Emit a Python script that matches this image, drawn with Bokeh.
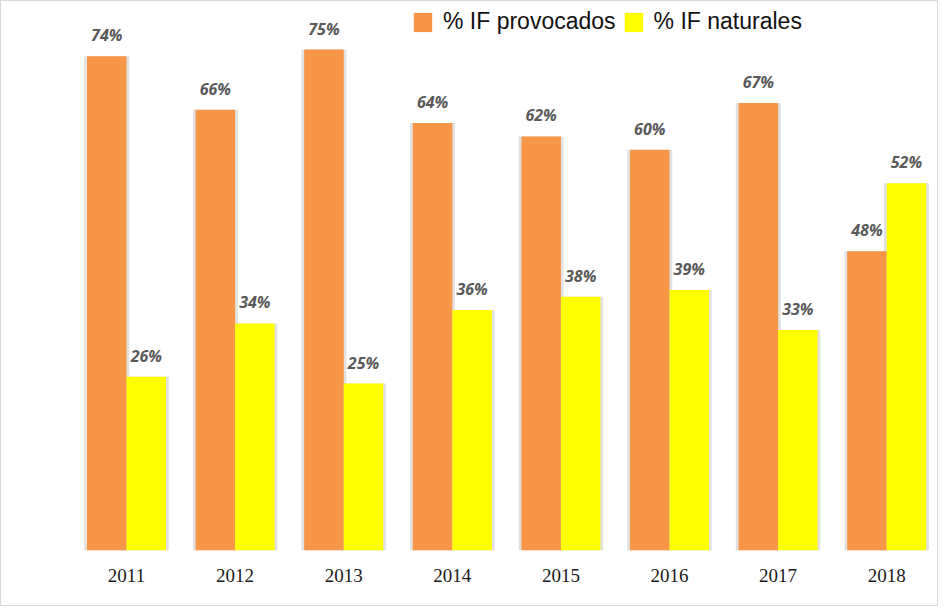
from bokeh.plotting import figure
from bokeh.models import ColumnDataSource, Range1d, FixedTicker, Legend, LegendItem
from bokeh.core.properties import value
from bokeh.embed import file_html
from bokeh.resources import INLINE

years = ["2011", "2012", "2013", "2014", "2015", "2016", "2017", "2018"]
# values as labelled in the chart
provocados = [74, 66, 75, 64, 62, 60, 67, 48]
naturales = [26, 34, 25, 36, 38, 39, 33, 52]
# bar heights as drawn in the reference (2018 column drawn at 45 / 55)
provocados_bar = [74, 66, 75, 64, 62, 60, 67, 44.8]
naturales_bar = [26, 34, 25, 36, 38, 39, 33, 55]

ORANGE = "#F79646"
YELLOW = "#FFFF00"
bw = 0.364
pos = list(range(len(years)))

src = ColumnDataSource(dict(
    x=pos,
    xo=[i - bw / 2 for i in pos],
    xn=[i + bw / 2 for i in pos],
    prov=provocados_bar,
    nat=naturales_bar,
    prov_lbl=[f"{v}%" for v in provocados],
    nat_lbl=[f"{v}%" for v in naturales],
))

p = figure(width=938, height=606, output_backend="svg", toolbar_location=None,
           x_range=Range1d(-1.096, 7.477), y_range=Range1d(0, 82.2),
           min_border_left=6, min_border_right=1, min_border_top=0, min_border_bottom=57)
p.styles = {"border": "1px solid #d9d9d9", "box-sizing": "border-box"}
p.outline_line_color = None
p.background_fill_color = "white"
p.border_fill_color = "white"
p.xgrid.visible = False
p.ygrid.visible = False
p.yaxis.visible = False

# soft shadows
p.vbar(x="xo", top="prov", width=bw + 0.05, source=src, fill_color="#9a9a9a",
       fill_alpha=0.3, line_color=None)
p.vbar(x="xn", top="nat", width=bw + 0.05, source=src, fill_color="#9a9a9a",
       fill_alpha=0.3, line_color=None)

r1 = p.vbar(x="xo", top="prov", width=bw, source=src, fill_color=ORANGE, line_color=None)
r2 = p.vbar(x="xn", top="nat", width=bw, source=src, fill_color=YELLOW, line_color=None)

for col, xcol in (("prov", "xo"), ("nat", "xn")):
    p.text(x=xcol, y=col, text=col + "_lbl", source=src, text_align="center",
           text_baseline="bottom", y_offset=-10, text_font=value("Open Sans"),
           text_font_style="bold italic", text_font_size="16px", text_color="#595959")

ax = p.xaxis[0]
ax.ticker = FixedTicker(ticks=pos)
ax.major_label_overrides = {i: y for i, y in zip(pos, years)}
ax.axis_line_color = None
ax.major_tick_line_color = None
ax.minor_tick_line_color = None
ax.major_label_text_font = "Liberation Serif"
ax.major_label_text_font_size = "19px"
ax.major_label_text_color = "#1a1a1a"
ax.major_label_standoff = 12

legend = Legend(items=[LegendItem(label="% IF provocados", renderers=[r1]),
                       LegendItem(label="% IF naturales", renderers=[r2])],
                orientation="horizontal", location=(404, 515))
legend.padding = 0
legend.margin = 0
legend.spacing = 6
legend.glyph_width = 23
legend.glyph_height = 24
legend.label_height = 24
legend.label_standoff = 9
legend.label_text_font = "Liberation Sans"
legend.label_text_font_size = "23px"
legend.label_text_color = "#111111"
legend.border_line_color = None
legend.background_fill_alpha = 0
p.add_layout(legend, "center")

open("out.html", "w").write(file_html(p, INLINE))
